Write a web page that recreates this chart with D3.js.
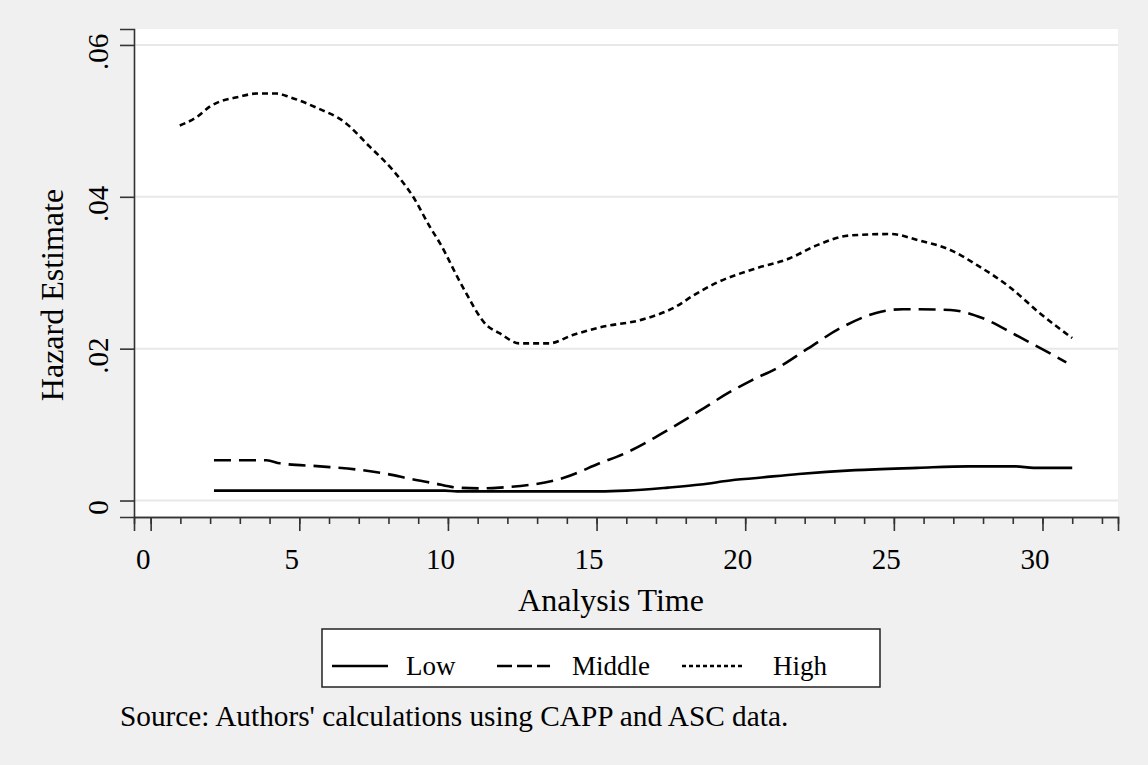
<!DOCTYPE html>
<html>
<head>
<meta charset="utf-8">
<script src="https://cdn.jsdelivr.net/npm/d3@7"></script>
<style>
  html, body { margin: 0; padding: 0; background: #f0f0f0; }
  svg text { font-family: "Liberation Serif", "Times New Roman", serif; fill: #000; }
</style>
</head>
<body>
<svg id="chart" width="1148" height="765"></svg>
<script>
// series (analysis time, hazard estimate)
var lowX  = [2.13, 4, 6, 8, 9.9, 10.3, 12, 15.1, 16, 17.4, 18.5, 19.6, 20.2, 21.8, 23.7, 25.8, 27.5, 29.1, 29.7, 31.0];
var lowY  = [0.0013, 0.0013, 0.0013, 0.0013, 0.0013, 0.0012, 0.0012, 0.0012, 0.0013, 0.0017, 0.0021, 0.0027, 0.0029, 0.0035, 0.0040, 0.0043, 0.0045, 0.0045, 0.0043, 0.0043];

var midX  = [2.13, 3.9, 4.35, 5.7, 6.9, 7.95, 8.8, 9.5, 10.3, 11.1, 11.75, 13.9, 15.1, 16.0, 17.1, 18.5, 19.4, 20.2, 21.1, 22.1, 23.2, 24.4, 25.3, 26.9, 28.0, 29.1, 30.8];
var midY  = [0.0053, 0.0053, 0.0049, 0.0045, 0.0041, 0.0035, 0.0028, 0.0023, 0.0017, 0.0016, 0.0017, 0.0030, 0.0049, 0.0063, 0.0086, 0.0119, 0.0141, 0.0158, 0.0175, 0.0200, 0.0227, 0.0247, 0.0252, 0.0251, 0.0240, 0.0218, 0.0182];

var highX = [0.98, 1.55, 2.0, 3.0, 3.57, 4.24, 4.7, 5.6, 6.5, 7.37, 8.15, 8.83, 9.4, 9.73, 10.5, 11.3, 11.75, 12.4, 13.4, 14.2, 15.1, 16.6, 17.7, 18.25, 19.05, 20.3, 21.5, 22.4, 23.5, 24.9, 25.8, 26.9, 27.8, 28.9, 29.9, 31.0];
var highY = [0.0494, 0.0505, 0.0519, 0.0532, 0.0536, 0.0536, 0.0531, 0.0517, 0.0499, 0.0466, 0.0435, 0.0400, 0.0360, 0.0339, 0.0281, 0.0231, 0.0220, 0.0207, 0.0207, 0.0218, 0.0228, 0.0239, 0.0256, 0.0270, 0.0287, 0.0305, 0.0319, 0.0336, 0.0349, 0.0351, 0.0343, 0.0330, 0.0310, 0.0281, 0.0247, 0.0214];

var seriesNames = ["Low", "Middle", "High"];
var xMajor = [0, 5, 10, 15, 20, 25, 30];
var xMinor = d3.range(0, 33);
var yTicks = [0, 0.02, 0.04, 0.06];
var yLabels = ["0", ".02", ".04", ".06"];

(function () {

  var svg = d3.select("#chart");

  // plot region edges
  var pLeft = 134, pRight = 1118, pTop = 29, pBottom = 517;

  var x = d3.scaleLinear().domain([-0.56, 32.54]).range([pLeft, pRight]);
  var y = d3.scaleLinear().domain([-0.00217, 0.0621]).range([pBottom, pTop]);

  svg.append("rect")
    .attr("x", pLeft).attr("y", pTop)
    .attr("width", pRight - pLeft).attr("height", pBottom - pTop)
    .attr("fill", "#fff");

  // grid
  svg.append("g").selectAll("line")
    .data(yTicks)
    .enter().append("line")
    .attr("x1", pLeft).attr("x2", pRight)
    .attr("y1", function(d) { return y(d); })
    .attr("y2", function(d) { return y(d); })
    .attr("stroke", "#e8e8e8")
    .attr("stroke-width", 2);

  // lines
  var dashes = ["none", "17,8", "6,4"];
  var data = [
    d3.zip(lowX, lowY),
    d3.zip(midX, midY),
    d3.zip(highX, highY)
  ];

  var line = d3.line()
    .x(function(d) { return x(d[0]); })
    .y(function(d) { return y(d[1]); })
    .curve(d3.curveMonotoneX);

  svg.append("g").selectAll("path")
    .data(data)
    .enter().append("path")
    .attr("d", line)
    .attr("fill", "none")
    .attr("stroke", "#000")
    .attr("stroke-width", 2.6)
    .attr("stroke-dasharray", function(d, i) { return dashes[i]; });

  // x axis: minor + major ticks
  var axisColor = "#333";
  var gx = svg.append("g").attr("transform", "translate(0," + pBottom + ")");
  gx.call(d3.axisBottom(x).tickValues(xMinor).tickSize(7).tickFormat(""));
  var gxMaj = svg.append("g").attr("transform", "translate(0," + pBottom + ")");
  gxMaj.call(d3.axisBottom(x).tickValues(xMajor).tickSize(14).tickPadding(17));
  [gx, gxMaj].forEach(function(g) {
    g.select(".domain").attr("stroke", axisColor).attr("stroke-width", 1.6);
    g.selectAll(".tick line").attr("stroke", axisColor).attr("stroke-width", 1.6);
  });
  gxMaj.selectAll(".tick text")
    .attr("font-size", 29)
    .attr("font-family", "Liberation Serif")
    .attr("dx", -8);

  // y axis
  var gy = svg.append("g").attr("transform", "translate(" + pLeft + ",0)");
  gy.call(d3.axisLeft(y).tickValues(yTicks).tickSize(14).tickFormat(""));
  gy.select(".domain").attr("stroke", axisColor).attr("stroke-width", 1.6);
  gy.selectAll(".tick line").attr("stroke", axisColor).attr("stroke-width", 1.6);

  svg.append("g").selectAll("text")
    .data(yTicks)
    .enter().append("text")
    .attr("transform", function(d) { return "translate(108," + (y(d) + 7) + ") rotate(-90)"; })
    .attr("text-anchor", "middle")
    .attr("font-size", 29)
    .text(function(d, i) { return yLabels[i]; });

  // titles
  svg.append("text")
    .attr("transform", "translate(63,295) rotate(-90)")
    .attr("text-anchor", "middle")
    .attr("font-size", 32)
    .text("Hazard Estimate");

  svg.append("text")
    .attr("x", 611).attr("y", 611)
    .attr("text-anchor", "middle")
    .attr("font-size", 32)
    .text("Analysis Time");

  // legend
  var lg = svg.append("g");
  lg.append("rect")
    .attr("x", 322).attr("y", 629)
    .attr("width", 558).attr("height", 58)
    .attr("fill", "#fff")
    .attr("stroke", "#222")
    .attr("stroke-width", 1.5);

  var legSample = [[332, 388], [497, 550], [682, 743]];
  var legDash = ["none", "15,5", "4,3"];
  var legText = [406, 572, 773];

  lg.selectAll("line")
    .data(seriesNames)
    .enter().append("line")
    .attr("x1", function(d, i) { return legSample[i][0]; })
    .attr("x2", function(d, i) { return legSample[i][1]; })
    .attr("y1", 666).attr("y2", 666)
    .attr("stroke", "#000")
    .attr("stroke-width", 2.4)
    .attr("stroke-dasharray", function(d, i) { return legDash[i]; });

  lg.selectAll("text")
    .data(seriesNames)
    .enter().append("text")
    .attr("x", function(d, i) { return legText[i]; })
    .attr("y", 675)
    .attr("font-size", 27)
    .text(function(d) { return d; });

  // note
  svg.append("text")
    .attr("x", 120).attr("y", 726)
    .attr("font-size", 29.3)
    .text("Source: Authors' calculations using CAPP and ASC data.");

})();
</script>
</body>
</html>
